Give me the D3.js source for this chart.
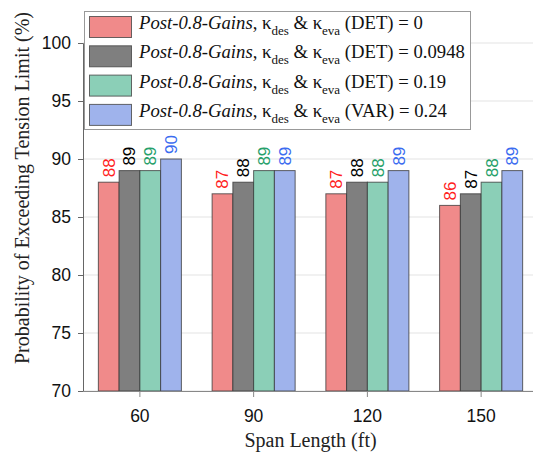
<!DOCTYPE html>
<html>
<head>
<meta charset="utf-8">
<script src="https://cdn.jsdelivr.net/npm/d3@7"></script>
<style>
  html, body { margin: 0; padding: 0; background: #fff; }
  svg { display: block; }
</style>
</head>
<body>
<svg id="chart" width="533" height="455"></svg>
<script>
// Span lengths (ft) on the x axis
const spans = ["60", "90", "120", "150"];

// Probability of exceeding the tension limit (%) for each gain setting
const seriesNames = ["DET = 0", "DET = 0.0948", "DET = 0.19", "VAR = 0.24"];
const legendTails = ["(DET) = 0", "(DET) = 0.0948", "(DET) = 0.19", "(VAR) = 0.24"];
const valsDet0 = [88, 87, 87, 86];
const valsDet0948 = [89, 88, 88, 87];
const valsDet019 = [89, 89, 88, 88];
const valsVar024 = [90, 89, 89, 89];

const yTicks = [70, 75, 80, 85, 90, 95, 100];

const fills = ["#f08a8a", "#7f7f7f", "#8bcfb7", "#9fb3ec"];
const labelColors = ["#ff1f1f", "#000000", "#26a06a", "#3b6cf0"];

const series = [valsDet0, valsDet0948, valsDet019, valsVar024];

const svg = d3.select("#chart");
const margin = { left: 83, top: 43, bottom: 391, right: 538 };

const x = d3.scaleBand().domain(spans).range([margin.left, margin.right]).paddingInner(0.27).paddingOuter(0.135);
const xInner = d3.scaleBand().domain(d3.range(series.length)).range([0, x.bandwidth()]);
const y = d3.scaleLinear().domain([70, 100]).range([margin.bottom, margin.top]);

const sans = "'Liberation Sans', Arial, sans-serif";
const serif = "'Liberation Serif', 'Times New Roman', serif";

// horizontal grid
svg.append("g")
  .selectAll("line")
  .data(yTicks)
  .join("line")
  .attr("x1", margin.left).attr("x2", 533)
  .attr("y1", d => y(d)).attr("y2", d => y(d))
  .attr("stroke", "#e3e3e3").attr("stroke-width", 1);

// bars
const groups = svg.append("g")
  .selectAll("g")
  .data(spans)
  .join("g")
  .attr("transform", d => `translate(${x(d)},0)`);

groups.selectAll("rect")
  .data((d, i) => series.map((s, k) => ({ k, v: s[i] })))
  .join("rect")
  .attr("x", d => xInner(d.k))
  .attr("y", d => y(d.v))
  .attr("width", xInner.bandwidth())
  .attr("height", d => y(70) - y(d.v))
  .attr("fill", d => fills[d.k])
  .attr("stroke", "#333")
  .attr("stroke-opacity", 0.75)
  .attr("stroke-width", 1);

// value labels, rotated
groups.selectAll("text")
  .data((d, i) => series.map((s, k) => ({ k, v: s[i] })))
  .join("text")
  .attr("transform", d => `translate(${xInner(d.k) + xInner.bandwidth() / 2 + 6},${y(d.v) - 5}) rotate(-90)`)
  .attr("font-family", sans)
  .attr("font-size", 17)
  .attr("fill", d => labelColors[d.k])
  .text(d => d.v);

// y axis
const yAxis = svg.append("g")
  .attr("transform", `translate(${margin.left},0)`)
  .call(d3.axisLeft(y).tickValues(yTicks).tickSize(5).tickPadding(7));
yAxis.select(".domain").attr("stroke", "#666");
yAxis.selectAll(".tick line").attr("stroke", "#666");
yAxis.selectAll(".tick text").attr("font-family", sans).attr("font-size", 17.5).attr("fill", "#111");

// x axis
const xAxis = svg.append("g")
  .attr("transform", `translate(0,${margin.bottom})`)
  .call(d3.axisBottom(x).tickSize(6).tickPadding(13).tickSizeOuter(0));
xAxis.select(".domain").attr("stroke", "#888");
xAxis.selectAll(".tick line").attr("stroke", "#888");
xAxis.selectAll(".tick text").attr("font-family", sans).attr("font-size", 17.5).attr("fill", "#111");

// axis titles
svg.append("text")
  .attr("x", (margin.left + margin.right) / 2)
  .attr("y", 447)
  .attr("text-anchor", "middle")
  .attr("font-family", serif)
  .attr("font-size", 20)
  .attr("fill", "#222")
  .text("Span Length (ft)");

svg.append("text")
  .attr("transform", "translate(29,188) rotate(-90)")
  .attr("text-anchor", "middle")
  .attr("font-family", serif)
  .attr("font-size", 20)
  .attr("fill", "#222")
  .text("Probability of Exceeding Tension Limit (%)");

// legend
const legend = svg.append("g");
legend.append("rect")
  .attr("x", 84.5).attr("y", 11.5)
  .attr("width", 386).attr("height", 118)
  .attr("fill", "#fff")
  .attr("stroke", "#999");

const rows = legend.selectAll("g.row")
  .data(seriesNames)
  .join("g")
  .attr("class", "row")
  .attr("transform", (d, i) => `translate(0,${16 + i * 29.3})`);

rows.append("rect")
  .attr("x", 89.5).attr("y", 0.5)
  .attr("width", 42).attr("height", 21)
  .attr("fill", (d, i) => fills[i])
  .attr("stroke", "#444")
  .attr("stroke-opacity", 0.8);

const lt = rows.append("text")
  .attr("x", 139)
  .attr("y", 13)
  .attr("font-family", serif)
  .attr("font-size", 18.7)
  .attr("fill", "#111");
lt.append("tspan").attr("font-style", "italic").text("Post-0.8-Gains");
lt.append("tspan").text(", κ");
lt.append("tspan").attr("font-size", 13).attr("dy", 6).text("des");
lt.append("tspan").attr("dy", -6).text(" & κ");
lt.append("tspan").attr("font-size", 13).attr("dy", 6).text("eva");
lt.append("tspan").attr("dy", -6).text((d, i) => " " + legendTails[i]);
</script>
</body>
</html>
